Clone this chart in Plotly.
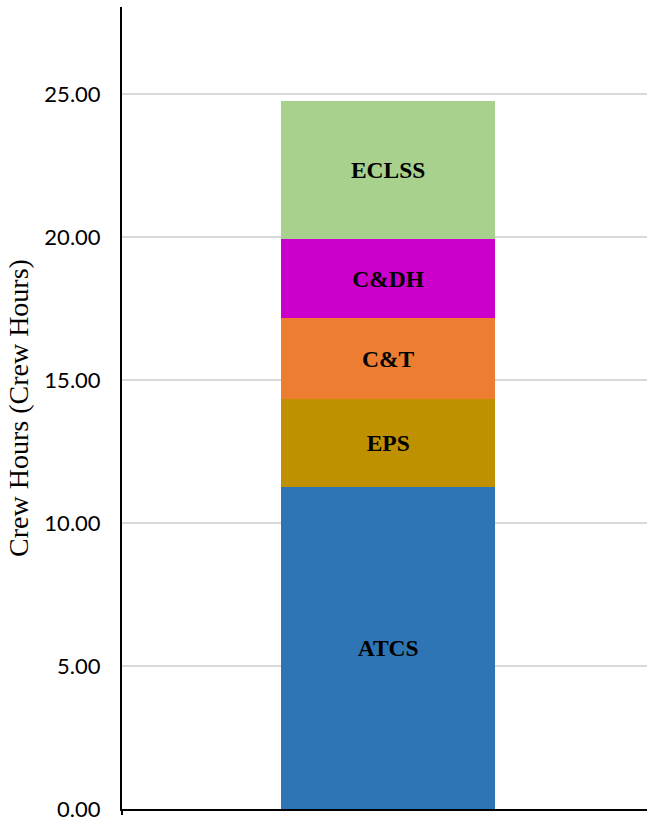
import plotly.graph_objects as go

categories = ["Crew Hours"]
subsystems = ["ATCS", "EPS", "C&T", "C&DH", "ECLSS"]
values = [11.25, 3.08, 2.84, 2.75, 4.82]
colors = ["#2E75B6", "#BF9000", "#ED7D31", "#CC00CC", "#A9D18E"]
tick_vals = [0, 5, 10, 15, 20, 25]
tick_text = ["0.00", "5.00", "10.00", "15.00", "20.00", "25.00"]

fig = go.Figure()
for name, val, col in zip(subsystems, values, colors):
    fig.add_trace(go.Bar(
        x=categories, y=[val], name=name,
        marker=dict(color=col, line=dict(width=0)),
        width=0.4076,
        text=[name], texttemplate="<b>%{text}</b>",
        textposition="inside", insidetextanchor="middle",
        textangle=0, constraintext="none",
        textfont=dict(family="Liberation Serif", size=23.5, color="#000000"),
        hoverinfo="name+y",
    ))

fig.update_layout(
    barmode="stack",
    width=647, height=817,
    margin=dict(l=122, r=0, t=7, b=8, autoexpand=False),
    paper_bgcolor="white", plot_bgcolor="white",
    showlegend=False,
    uniformtext=dict(mode=False),
    xaxis=dict(
        type="category", range=[-0.507, 0.493], automargin=False,
        showticklabels=False, showgrid=False, zeroline=False,
        showline=True, linecolor="#000000", linewidth=2, ticks="",
    ),
    yaxis=dict(
        range=[0, 28.04], tickvals=tick_vals, ticktext=tick_text,
        automargin=False,
        showgrid=True, gridcolor="#D9D9D9", gridwidth=1.5,
        zeroline=False, showline=True, linecolor="#000000", linewidth=2,
        ticks="", ticklabelstandoff=15, ticklabeloverflow="allow",
        tickfont=dict(family="Lato", size=22, color="#000000"),
        title=dict(text="Crew Hours (Crew Hours)", standoff=8,
                   font=dict(family="Liberation Serif", size=28, color="#000000")),
    ),
    shapes=[dict(type="line", xref="paper", yref="paper", x0=0, x1=0, y0=0, y1=-0.0075,
                 line=dict(color="#000000", width=2))],
)

fig.write_html("out.html")
